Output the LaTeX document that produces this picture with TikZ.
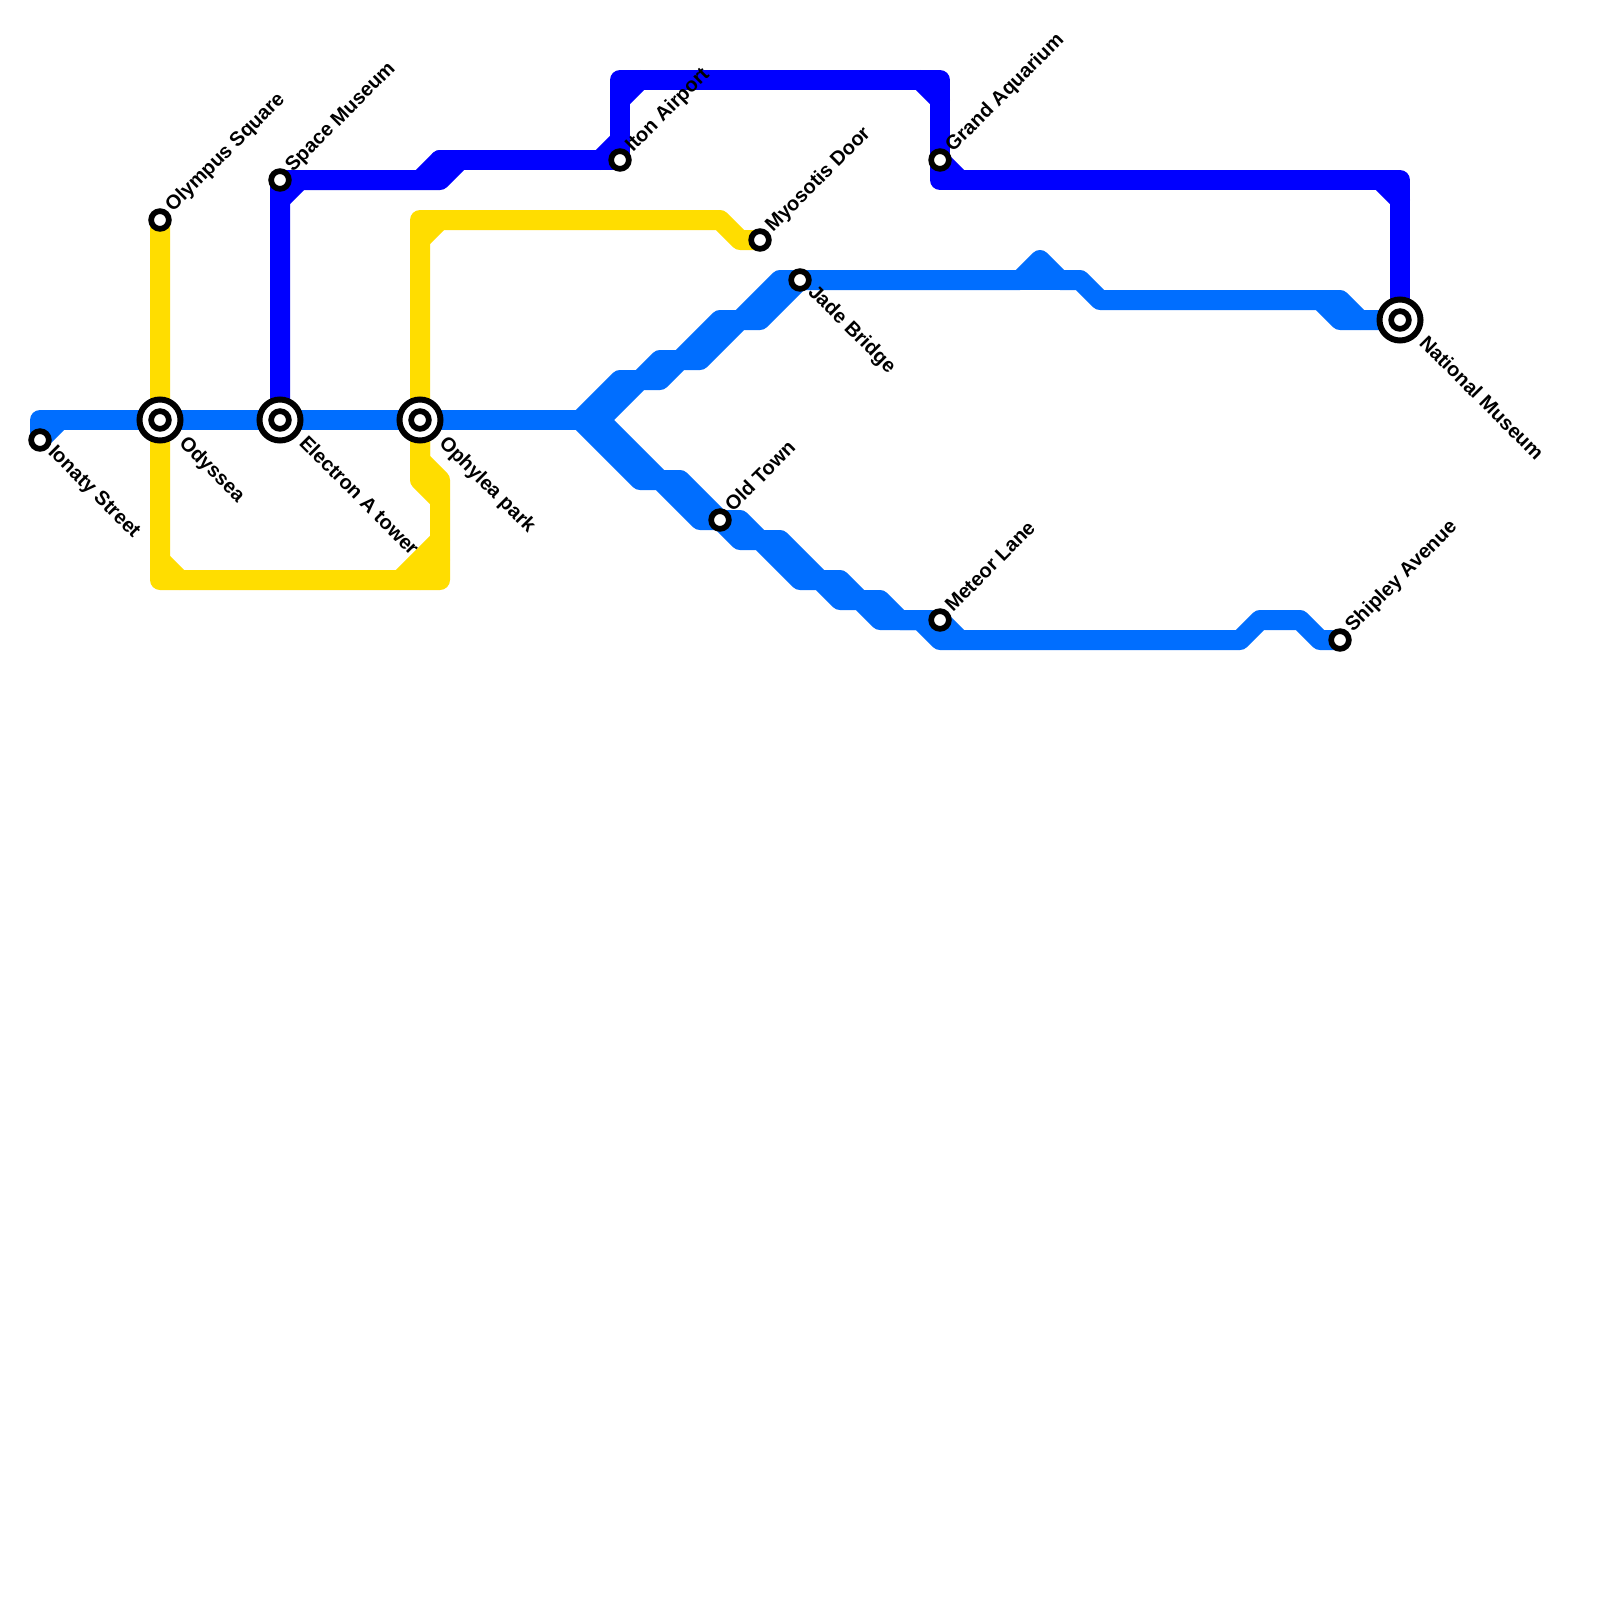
\documentclass[tikz,border=0pt]{standalone}
\usepackage{fontspec}
\setmainfont{Liberation Sans}
\usetikzlibrary{backgrounds}
\definecolor{lineblue}{HTML}{006EFF}
\definecolor{linedark}{HTML}{0000FF}
\definecolor{lineyellow}{HTML}{FFDD00}
\tikzset{
  route/.style={line width=20pt,line join=round,line cap=round},
  stn/.style={circle,draw=black,fill=white,line width=5.7pt,minimum size=17.7pt,inner sep=0pt,outer sep=0pt},
  hub/.style={circle,draw=black,fill=white,line width=6pt,minimum size=41pt,inner sep=0pt,outer sep=0pt},
  lab/.style={font=\fontsize{20}{24}\selectfont\bfseries,inner sep=0pt,anchor=mid west,text=black},
  labup/.style={lab,rotate=45},
  labdown/.style={lab,rotate=-45}
}
\begin{document}
\begin{tikzpicture}[x=1pt,y=-1pt]
\path[use as bounding box] (0,0) rectangle (1600,1600);
% interchange rings
\node[hub] (odysseaRing) at (160,420) {};
\node[hub] (electronRing) at (280,420) {};
\node[hub] (ophyleaRing) at (420,420) {};
\node[hub] (nationalRing) at (1400,320) {};
% stations
\node[stn] (ionaty) at (40,440) {};
\node[stn] (odyssea) at (160,420) {};
\node[stn] (electron) at (280,420) {};
\node[stn] (ophylea) at (420,420) {};
\node[stn] (olympus) at (160,220) {};
\node[stn] (space) at (280,180) {};
\node[stn] (ilton) at (620,160) {};
\node[stn] (grand) at (940,160) {};
\node[stn] (myosotis) at (760,240) {};
\node[stn] (jade) at (800,280) {};
\node[stn] (oldtown) at (720,520) {};
\node[stn] (meteor) at (940,620) {};
\node[stn] (shipley) at (1340,640) {};
\node[stn] (national) at (1400,320) {};
% labels
\node[labdown] (lIonaty) at (49,451) {Ionaty Street};
\node[labdown] (lOdyssea) at (180,442) {Odyssea};
\node[labdown] (lElectron) at (300,442) {Electron A tower};
\node[labdown] (lOphylea) at (440,442) {Ophylea park};
\node[labdown] (lJade) at (809,291) {Jade Bridge};
\node[labdown] (lNational) at (1420,342) {National Museum};
\node[labup] (lOlympus) at (171,211) {Olympus Square};
\node[labup] (lSpace) at (291,171) {Space Museum};
\node[labup] (lIlton) at (631,151) {Iton Airport};
\node[labup] (lGrand) at (951,151) {Grand Aquarium};
\node[labup] (lMyosotis) at (771,231) {Myosotis Door};
\node[labup] (lOld) at (731,511) {Old Town};
\node[labup] (lMeteor) at (951,611) {Meteor Lane};
\node[labup] (lShipley) at (1351,631) {Shipley Avenue};
% routes
\begin{scope}[on background layer]
\fill[white] (0,0) rectangle (1600,1600);
\draw[route,lineyellow] (olympus.center) -- (odyssea.center) -- (160,580) -- (440,580) -- (440,480) -- (420,460) -- (ophylea.center) -- (420,220) -- (720,220) -- (740,240) -- (myosotis.center);
\draw[route,lineyellow] (ophylea.center) -- (420,480) -- (440,500);
\draw[route,lineyellow] (160,560) -- (180,580);
\draw[route,lineyellow] (400,580) -- (440,540);
\draw[route,lineyellow] (420,580) -- (440,560);
\draw[route,lineyellow] (420,240) -- (440,220);
\draw[route,lineblue] (ionaty.center) -- (40,420) -- (odyssea.center) -- (electron.center) -- (ophylea.center) -- (600,420);
\draw[route,lineblue] (ionaty.center) -- (60,420);
\draw[route,lineblue] (580,420) -- (620,380) -- (640,380) -- (660,360) -- (680,360) -- (720,320) -- (740,320) -- (780,280) -- (jade.center);
\draw[route,lineblue] (600,420) -- (640,380) -- (660,380) -- (680,360) -- (700,360) -- (740,320) -- (760,320) -- (jade.center);
\draw[route,lineblue] (jade.center) -- (1020,280) -- (1040,260) -- (1060,280) -- (1080,280) -- (1100,300) -- (1340,300) -- (1360,320) -- (national.center);
\draw[route,lineblue] (1020,280) -- (1060,280);
\draw[route,lineblue] (1320,300) -- (1340,320) -- (1360,320);
\draw[route,lineblue] (580,420) -- (640,480) -- (660,480) -- (700,520) -- (oldtown.center) -- (740,540) -- (760,540) -- (800,580) -- (820,580) -- (840,600) -- (860,600) -- (880,620) -- (920,620) -- (940,640) -- (1240,640) -- (1260,620) -- (1300,620) -- (1320,640) -- (shipley.center);
\draw[route,lineblue] (600,420) -- (660,480) -- (680,480) -- (oldtown.center) -- (740,520) -- (760,540) -- (780,540) -- (820,580) -- (840,580) -- (860,600) -- (880,600) -- (900,620) -- (meteor.center) -- (960,640);
\draw[route,linedark] (electron.center) -- (space.center) -- (440,180) -- (460,160) -- (440,160) -- (420,180);
\draw[route,linedark] (280,200) -- (300,180);
\draw[route,linedark] (440,160) -- (600,160) -- (ilton.center);
\draw[route,linedark] (600,160) -- (620,140);
\draw[route,linedark] (ilton.center) -- (620,80) -- (940,80) -- (grand.center) -- (940,180) -- (1400,180) -- (national.center);
\draw[route,linedark] (620,100) -- (640,80);
\draw[route,linedark] (920,80) -- (940,100);
\draw[route,linedark] (grand.center) -- (960,180);
\draw[route,linedark] (1380,180) -- (1400,200);
\end{scope}
\end{tikzpicture}
\end{document}
